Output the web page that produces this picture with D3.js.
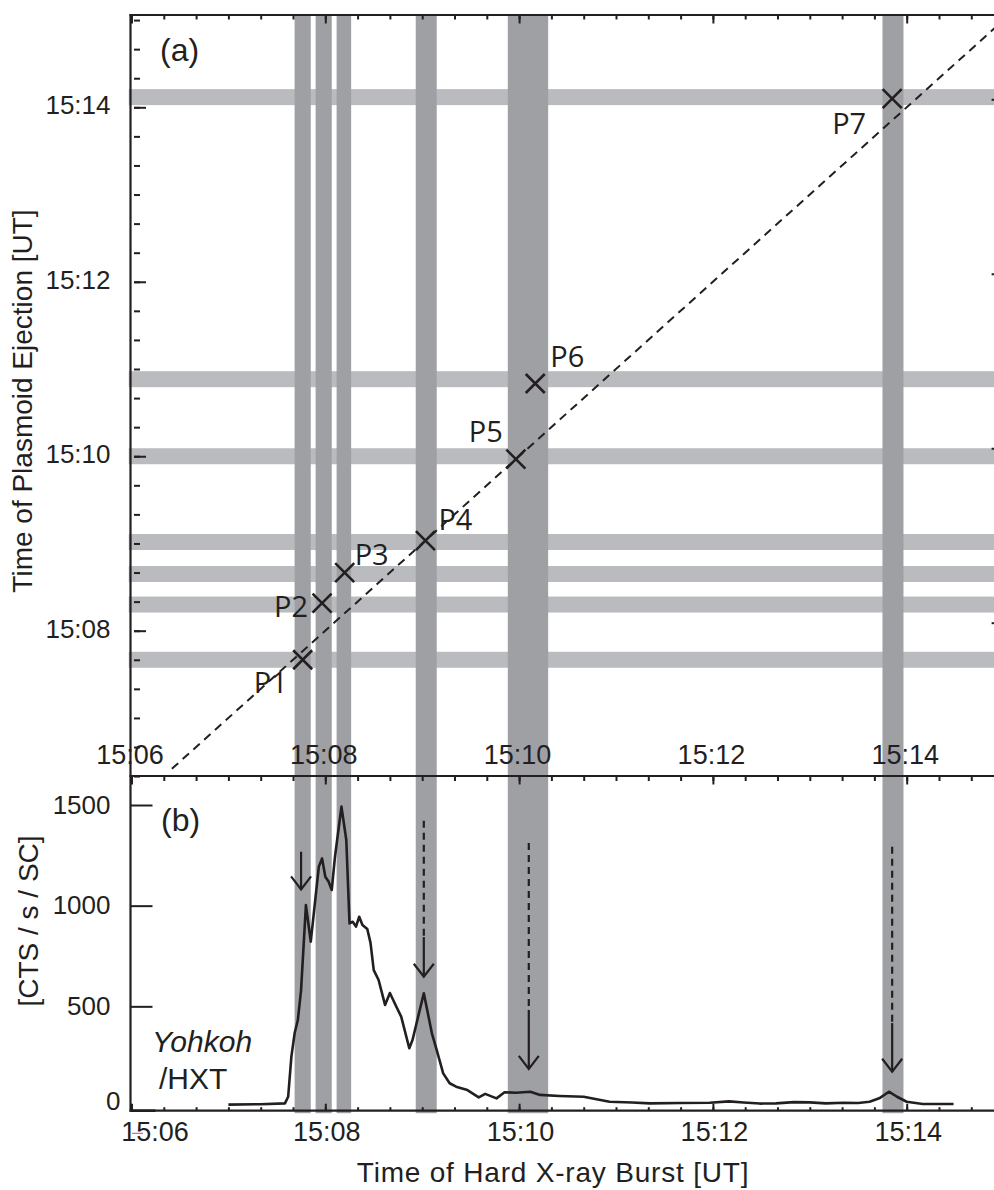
<!DOCTYPE html>
<html><head><meta charset="utf-8">
<script src="https://cdn.jsdelivr.net/npm/d3@7"></script>
<style>
body{margin:0;background:#fff}
svg{display:block}
text{fill:#231f20}
</style>
</head><body>
<svg id="c" width="994" height="1190"></svg>
<script>
// ---------------- DATA ----------------
// Hard X-ray burst windows (vertical bands), start / end times
const burstStart = ["15:07:41","15:07:54","15:08:07","15:08:56","15:09:53","15:13:45"];
const burstEnd   = ["15:07:51","15:08:04","15:08:16","15:09:09","15:10:18","15:13:58"];
// Plasmoid ejection times (horizontal bands), centre times, window length in s
const ejectTime = ["15:07:40","15:08:18","15:08:39","15:09:01","15:10:00","15:10:53","15:14:07"];
const ejectWindowSec = 11;
// Plasmoid points: HXR burst time (x) vs ejection time (y)
const pointNames = ["P1","P2","P3","P4","P5","P6","P7"];
const pointHXR   = ["15:07:46","15:07:58","15:08:12","15:09:02","15:09:58","15:10:10","15:13:51"];
const pointEject = ["15:07:40","15:08:19","15:08:40","15:09:02","15:09:58","15:10:50","15:14:06"];
// y = x reference line
const diagTimes = ["15:06:25","15:15:10"];
// Yohkoh/HXT light curve: seconds after 15:06:00, counts/s/SC
const hxrSec = [60,80,95,97,99,101,103,105,108,111,114,116,118,120,122,124,126,130,133,135,137,139,141,143,146,148,150,153,157,160,164,167,172,174,181,186,189,193,197,201,208,215,219,226,231,238,247,253,265,280,296,310,321,340,358,370,379,389,399,410,420,430,441,450,457,463,469,474,480,490,509];
const hxrCounts = [12,14,18,51,250,366,432,581,1003,821,1045,1194,1235,1144,1120,1078,1243,1492,1326,912,920,896,945,904,884,815,680,631,507,566,498,449,292,333,565,366,283,167,118,101,84,48,65,43,73,71,76,60,55,51,26,22,18,20,21,28,22,17,18,24,23,18,21,20,26,43,76,51,26,15,15];
// Arrows marking bursts in panel (b): time, dashed top, solid top, tip (counts)
const arrowTime      = ["15:07:45","15:09:01","15:10:06","15:13:51"];
const arrowDashTop   = [null, 1422, 1311, 1293];
const arrowSolidTop  = [1268, 844, 482, 417];
const arrowTip       = [1081, 647, 189, 175];
// Tick labels
const xTickLabels  = ["15:06","15:08","15:10","15:12","15:14"];
const yTickLabelsA = ["15:08","15:10","15:12","15:14"];
const yTicksB      = [0,500,1000,1500];

// ---------------- LAYOUT ----------------
const T = s => { const p = s.split(":").map(Number); return p[0]*3600 + p[1]*60 + (p[2]||0); };
const T0 = T("15:06");
const svg = d3.select("#c");
const L = 130.5, R = 994, aTop = 15, aBot = 776, bBot = 1110.7;
const x  = d3.scaleLinear().domain([T("15:06"), T("15:14")]).range([131.5, 906.7]);
const yA = d3.scaleLinear().domain([T("15:08"), T("15:14")]).range([630.7, 107.3]);
const yB = d3.scaleLinear().domain([0, 1500]).range([1107, 805]);
const ink = "#231f20";
const tickFont = "'Liberation Sans', Arial, Helvetica, sans-serif";

svg.append("defs").append("clipPath").attr("id","clipA")
  .append("rect").attr("x",L-2).attr("y",aTop).attr("width",R-L+2).attr("height",aBot-aTop);

// horizontal bands (ejection)
svg.append("g").attr("clip-path","url(#clipA)").selectAll("rect").data(ejectTime).join("rect")
  .attr("x", L-2).attr("width", R-L+2)
  .attr("y", d => yA(T(d)+ejectWindowSec/2))
  .attr("height", d => yA(T(d)-ejectWindowSec/2) - yA(T(d)+ejectWindowSec/2))
  .attr("fill", "#babbbe");

// vertical bands (HXR bursts)
svg.append("g").selectAll("rect").data(burstStart).join("rect")
  .attr("x", d => x(T(d)))
  .attr("width", (d,i) => x(T(burstEnd[i])) - x(T(d)))
  .attr("y", aTop).attr("height", bBot + 2.5 - aTop)
  .attr("fill", "#9fa0a4");

// ---------------- AXES ----------------
const minorX = d3.range(T("15:06"), T("15:15")+1, 20);
const majorX = xTickLabels.map(T);
const minorYA = d3.range(T("15:06:20"), T("15:15")+1, 20);
const majorYA = yTickLabelsA.map(T);

function ticksOnly(g){ g.select(".domain").remove(); g.selectAll("line").attr("stroke",ink).attr("stroke-width",2); g.selectAll("text").remove(); }
function labelsOnly(g, size){ g.select(".domain").remove(); g.selectAll("line").remove();
  g.selectAll("text").attr("fill",ink).style("font-family",tickFont).style("font-size",size+"px"); }

// top of panel (a)
svg.append("g").attr("transform",`translate(0,${aTop})`).call(d3.axisBottom(x).tickValues(minorX).tickSize(4.5)).call(ticksOnly);
svg.append("g").attr("transform",`translate(0,${aTop})`).call(d3.axisBottom(x).tickValues(majorX).tickSize(8.5)).call(ticksOnly);
// middle axis
svg.append("g").attr("transform",`translate(0,${aBot})`).call(d3.axisBottom(x).tickValues(minorX).tickSize(5)).call(ticksOnly);
svg.append("g").attr("transform",`translate(0,${aBot})`).call(d3.axisBottom(x).tickValues(majorX).tickSize(8.5)).call(ticksOnly);
svg.append("g").attr("transform",`translate(-2,${aBot})`)
  .call(d3.axisTop(x).tickValues(majorX).tickSize(0).tickPadding(12).tickFormat((d,i)=>xTickLabels[i])).call(g=>labelsOnly(g,27));
// bottom axis
svg.append("g").attr("transform",`translate(0,${bBot})`).call(d3.axisTop(x).tickValues(minorX).tickSize(3.5)).call(ticksOnly);
svg.append("g").attr("transform",`translate(0,${bBot})`).call(d3.axisTop(x).tickValues(majorX).tickSize(7)).call(ticksOnly);
svg.append("g").attr("transform",`translate(1,${bBot})`)
  .call(d3.axisBottom(x).tickValues(majorX).tickSize(0).tickPadding(11).tickFormat((d,i)=>xTickLabels[i])).call(g=>labelsOnly(g,27))
  .call(g=>g.selectAll("text").filter(d=>d===T("15:06")).attr("dx",22));
// left axis panel (a)
svg.append("g").attr("transform",`translate(${L+3.5},0)`).call(d3.axisRight(yA).tickValues(minorYA).tickSize(6)).call(ticksOnly);
svg.append("g").attr("transform",`translate(${L+3.5},0)`).call(d3.axisRight(yA).tickValues(majorYA).tickSize(12)).call(ticksOnly);
svg.append("g").attr("transform",`translate(${L},-2)`)
  .call(d3.axisLeft(yA).tickValues(majorYA).tickSize(0).tickPadding(20).tickFormat((d,i)=>yTickLabelsA[i])).call(g=>labelsOnly(g,26));
// right axis panel (a) (only major ticks reach the picture)
svg.append("g").attr("transform",`translate(1003.6,-8)`).call(d3.axisLeft(yA).tickValues(majorYA).tickSize(12)).call(ticksOnly);
// left axis panel (b)
svg.append("g").attr("transform",`translate(${L},0)`).call(d3.axisRight(yB).tickValues(yTicksB.slice(1)).tickSize(22)).call(ticksOnly);
svg.append("g").attr("transform",`translate(${L},0)`)
  .call(d3.axisLeft(yB).tickValues(yTicksB).tickSize(0).tickPadding(20).tickFormat(d3.format("d"))).call(g=>labelsOnly(g,26))
  .call(g=>g.selectAll("text").filter(d=>d===0).attr("dx",10).attr("dy","0.1em"));
svg.append("line").attr("x1",L).attr("x2",L+25).attr("y1",bBot).attr("y2",bBot).attr("stroke",ink).attr("stroke-width",2.6);

// frame lines
const frame = svg.append("g").attr("stroke",ink).attr("stroke-width",2.2);
frame.append("line").attr("x1",L).attr("x2",L).attr("y1",aTop-1).attr("y2",bBot+1);
frame.append("line").attr("x1",L-1).attr("x2",R).attr("y1",aTop).attr("y2",aTop);
frame.append("line").attr("x1",L-1).attr("x2",R).attr("y1",aBot).attr("y2",aBot);
frame.append("line").attr("x1",L-1).attr("x2",R).attr("y1",bBot).attr("y2",bBot);
// small magenta mark near the bottom-left label
svg.append("line").attr("x1",132).attr("x2",143).attr("y1",1133.3).attr("y2",1133.3).attr("stroke","#e8388a").attr("stroke-width",1);

// ---------------- PANEL (a) ----------------
svg.append("g").attr("clip-path","url(#clipA)").append("line")
  .attr("x1", x(T(diagTimes[0]))).attr("y1", yA(T(diagTimes[0])))
  .attr("x2", x(T(diagTimes[1]))).attr("y2", yA(T(diagTimes[1])))
  .attr("stroke", ink).attr("stroke-width", 2).attr("stroke-dasharray","8.5,6");

const pts = pointNames.map((n,i)=>({n, x:x(T(pointHXR[i])), y:yA(T(pointEject[i]))}));
const mk = 9.5;
svg.append("g").selectAll("path").data(pts).join("path")
  .attr("d", d => `M${d.x-mk},${d.y-mk}L${d.x+mk},${d.y+mk}M${d.x-mk},${d.y+mk}L${d.x+mk},${d.y-mk}`)
  .attr("stroke", ink).attr("stroke-width", 2.6).attr("fill","none");

const labelOff = [[-15,33,"end"],[-14,14,"end"],[10,-8,"start"],[13,-11,"start"],[-13,-17,"end"],[15,-17,"start"],[-26,35,"end"]];
svg.append("g").selectAll("text").data(pts).join("text")
  .attr("x",(d,i)=>d.x+labelOff[i][0]).attr("y",(d,i)=>d.y+labelOff[i][1])
  .attr("text-anchor",(d,i)=>labelOff[i][2])
  .style("font-family","'Open Sans','Noto Sans',sans-serif").style("font-size","29px")
  .text(d=>d.n);

svg.append("text").attr("x",160).attr("y",61).style("font-family",tickFont).style("font-size","32px").text("(a)");
svg.append("text").attr("transform","translate(32,401) rotate(-90)").attr("text-anchor","middle")
  .style("font-family",tickFont).style("font-size","28px").text("Time of Plasmoid Ejection [UT]");

// ---------------- PANEL (b) ----------------
const line = d3.line().x((d,i)=>x(T0+hxrSec[i])).y((d,i)=>yB(hxrCounts[i]));
svg.append("path").datum(hxrSec).attr("d", line).attr("fill","none")
  .attr("stroke", ink).attr("stroke-width", 2.6).attr("stroke-linejoin","round");

const ag = svg.append("g").attr("stroke",ink).attr("stroke-width",2.2).attr("fill","none");
arrowTime.forEach((t,i)=>{
  const ax = x(T(t));
  if (arrowDashTop[i] !== null)
    ag.append("line").attr("x1",ax).attr("x2",ax).attr("y1",yB(arrowDashTop[i])).attr("y2",yB(arrowSolidTop[i]))
      .attr("stroke-dasharray","7,5");
  ag.append("line").attr("x1",ax).attr("x2",ax).attr("y1",yB(arrowSolidTop[i])).attr("y2",yB(arrowTip[i]));
  const ty = yB(arrowTip[i]);
  ag.append("path").attr("d",`M${ax-10},${ty-13}L${ax},${ty}L${ax+10},${ty-13}`);
});

svg.append("text").attr("x",161).attr("y",831).style("font-family",tickFont).style("font-size","32px").text("(b)");
svg.append("text").attr("x",152).attr("y",1052).style("font-family",tickFont).style("font-style","italic").style("font-size","30px").text("Yohkoh");
svg.append("text").attr("x",159).attr("y",1089).style("font-family",tickFont).style("font-size","30px").text("/HXT");
svg.append("text").attr("transform","translate(38,921) rotate(-90)").attr("text-anchor","middle")
  .style("font-family",tickFont).style("font-size","28px").text("[CTS / s / SC]");
svg.append("text").attr("x",553).attr("y",1182).attr("text-anchor","middle")
  .style("font-family",tickFont).style("font-size","28px").style("letter-spacing","0.8px").text("Time of Hard X-ray Burst [UT]");
</script>
</body></html>
